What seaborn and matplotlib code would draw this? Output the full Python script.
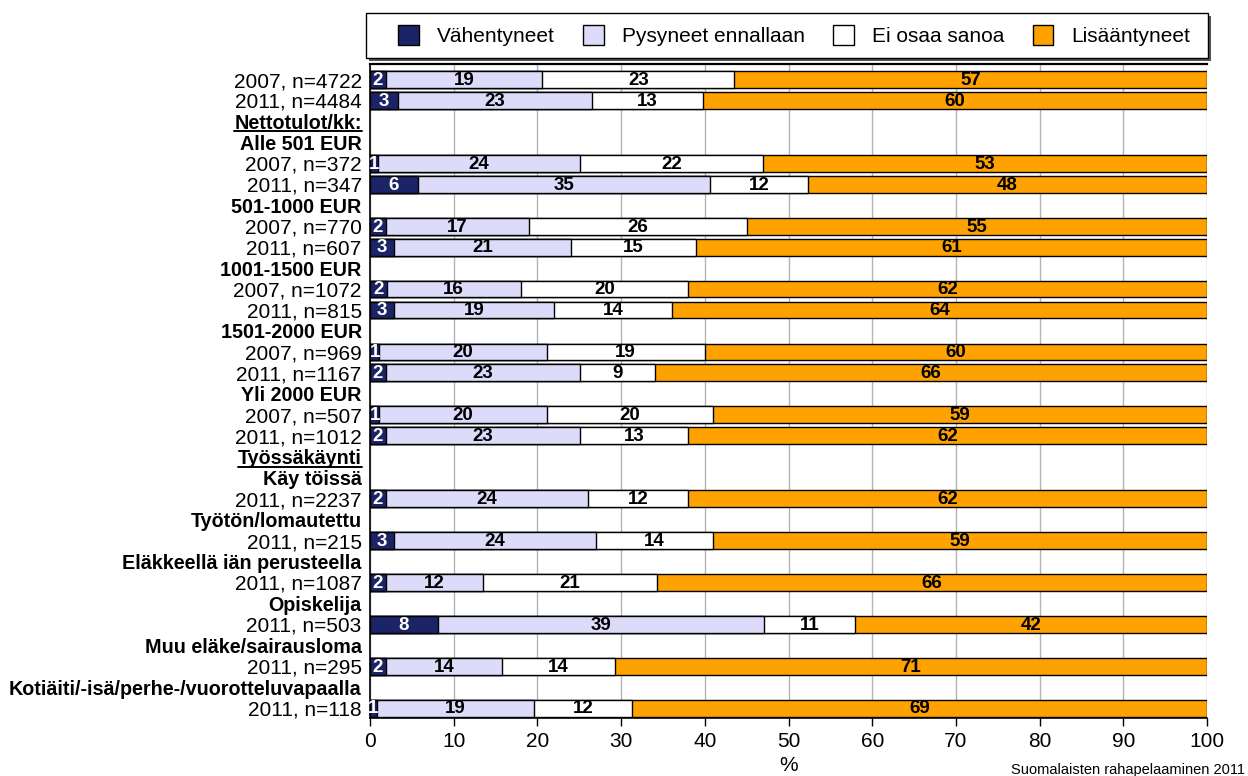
import matplotlib
matplotlib.use("Agg")
import matplotlib.pyplot as plt
import seaborn as sns
import numpy as np
import pandas as pd
from matplotlib.patches import Patch, Rectangle
from matplotlib.lines import Line2D

# ---- data ----
row_order = [
    "2007, n=4722", "2011, n=4484", "Nettotulot/kk:", "Alle 501 EUR",
    "2007, n=372", "2011, n=347", "501-1000 EUR", "2007, n=770", "2011, n=607",
    "1001-1500 EUR", "2007, n=1072", "2011, n=815", "1501-2000 EUR",
    "2007, n=969", "2011, n=1167", "Yli 2000 EUR", "2007, n=507", "2011, n=1012",
    "Työssäkäynti", "Käy töissä", "2011, n=2237", "Työtön/lomautettu",
    "2011, n=215", "Eläkkeellä iän perusteella", "2011, n=1087", "Opiskelija",
    "2011, n=503", "Muu eläke/sairausloma", "2011, n=295",
    "Kotiäiti/-isä/perhe-/vuorotteluvapaalla", "2011, n=118",
]
header_rows = [
    "Nettotulot/kk:", "Alle 501 EUR", "501-1000 EUR", "1001-1500 EUR",
    "1501-2000 EUR", "Yli 2000 EUR", "Työssäkäynti", "Käy töissä",
    "Työtön/lomautettu", "Eläkkeellä iän perusteella", "Opiskelija",
    "Muu eläke/sairausloma", "Kotiäiti/-isä/perhe-/vuorotteluvapaalla",
]
underlined_rows = ["Nettotulot/kk:", "Työssäkäynti"]

data_rows = [
    "2007, n=4722", "2011, n=4484", "2007, n=372", "2011, n=347",
    "2007, n=770", "2011, n=607", "2007, n=1072", "2011, n=815",
    "2007, n=969", "2011, n=1167", "2007, n=507", "2011, n=1012",
    "2011, n=2237", "2011, n=215", "2011, n=1087", "2011, n=503",
    "2011, n=295", "2011, n=118",
]
series_names = ["Vähentyneet", "Pysyneet ennallaan", "Ei osaa sanoa", "Lisääntyneet"]

vahentyneet = [1.9, 3.3, 1.0, 5.7, 1.9, 2.9, 2.0, 2.9, 1.1, 1.9, 1.1, 1.9, 1.9, 2.9, 1.9, 8.1, 1.9, 0.8]
pysyneet = [18.7, 23.2, 24.1, 34.9, 17.1, 21.1, 16.0, 19.1, 20.0, 23.2, 20.0, 23.2, 24.1, 24.1, 11.6, 39.0, 13.9, 18.8]
ei_osaa = [22.9, 13.3, 21.9, 11.7, 26.0, 14.9, 20.0, 14.1, 18.9, 9.0, 19.9, 12.9, 12.0, 14.0, 20.8, 10.8, 13.5, 11.7]
lisaantyneet = [56.5, 60.2, 53.0, 47.7, 55.0, 61.1, 62.0, 63.9, 60.0, 65.9, 59.0, 62.0, 62.0, 59.0, 65.7, 42.1, 70.7, 68.7]

vahentyneet_lbl = [2, 3, 1, 6, 2, 3, 2, 3, 1, 2, 1, 2, 2, 3, 2, 8, 2, 1]
pysyneet_lbl = [19, 23, 24, 35, 17, 21, 16, 19, 20, 23, 20, 23, 24, 24, 12, 39, 14, 19]
ei_osaa_lbl = [23, 13, 22, 12, 26, 15, 20, 14, 19, 9, 20, 13, 12, 14, 21, 11, 14, 12]
lisaantyneet_lbl = [57, 60, 53, 48, 55, 61, 62, 64, 60, 66, 59, 62, 62, 59, 66, 42, 71, 69]

x_ticks = [0, 10, 20, 30, 40, 50, 60, 70, 80, 90, 100]

# ---- style ----
sns.set_theme(style="white")
plt.rcParams["font.family"] = ["Liberation Sans", "DejaVu Sans"]
plt.rcParams["text.color"] = "black"
plt.rcParams["axes.labelcolor"] = "black"
plt.rcParams["xtick.color"] = "black"
plt.rcParams["ytick.color"] = "black"

colors = ["#1B2466", "#DCDCFA", "#FFFFFF", "#FFA200"]
text_colors = ["white", "black", "black", "black"]

fig = plt.figure(figsize=(12.48, 7.76), dpi=100)
ax = fig.add_axes([370 / 1248, 1 - 718 / 776, 837 / 1248, (718 - 64) / 776])

series = [vahentyneet, pysyneet, ei_osaa, lisaantyneet]
labels = [vahentyneet_lbl, pysyneet_lbl, ei_osaa_lbl, lisaantyneet_lbl]
df = pd.DataFrame({name: vals for name, vals in zip(series_names, series)})
df["row"] = data_rows
cum = df[series_names].cumsum(axis=1)

# draw cumulative layers from the widest to the narrowest
for k in range(3, -1, -1):
    sns.barplot(x=cum[series_names[k]], y=df["row"], order=row_order, orient="h",
                color=colors[k], saturation=1, width=0.8, edgecolor="black",
                linewidth=1, ax=ax, zorder=3)

# value labels
for k in range(4):
    left = cum[series_names[k]] - df[series_names[k]]
    for i, r in enumerate(data_rows):
        xc = left.iloc[i] + df[series_names[k]].iloc[i] / 2
        yc = row_order.index(r) + 0.04
        ax.text(xc, yc, str(labels[k][i]), ha="center", va="center",
                fontsize=13.5, fontweight="bold", color=text_colors[k], zorder=5)

ax.set_xlim(0, 100)
ax.set_ylim(30.47, -0.74)
ax.set_xticks(x_ticks)
ax.set_xticklabels([str(t) for t in x_ticks], fontsize=15)
ax.set_xlabel("%", fontsize=15, labelpad=4)
ax.set_ylabel("")
ax.xaxis.grid(True, color="#b4b4b4", linewidth=1, zorder=0)
ax.set_axisbelow(True)
ax.tick_params(axis="x", direction="out", length=6, width=1, color="black", pad=4, bottom=True)
ax.tick_params(axis="y", length=0, pad=6, labelsize=15)

for side in ["left", "bottom", "top"]:
    ax.spines[side].set_visible(True)
    ax.spines[side].set_color("black")
    ax.spines[side].set_linewidth(1.2)
ax.spines["top"].set_linewidth(1.6)
ax.spines["right"].set_visible(False)

for lab in ax.get_yticklabels():
    if lab.get_text() in header_rows:
        lab.set_fontweight("bold")
        lab.set_fontsize(14.2)

# legend box (frame + shadow) and entries
box_x0, box_y0, box_w, box_h = 366 / 1248, 1 - 58 / 776, 842 / 1248, 45 / 776
fig.add_artist(Rectangle((box_x0 + 3 / 1248, box_y0 - 3 / 776), box_w, box_h,
                         transform=fig.transFigure, facecolor="#555555",
                         edgecolor="none", zorder=0))
fig.add_artist(Rectangle((box_x0, box_y0), box_w, box_h, transform=fig.transFigure,
                         facecolor="white", edgecolor="black", linewidth=1, zorder=1))
handles = [Patch(facecolor=c, edgecolor="black", linewidth=1) for c in colors]
leg = fig.legend(handles, series_names, loc="center left",
                 bbox_to_anchor=(398 / 1248, box_y0, (1190 - 398) / 1248, box_h),
                 mode="expand", ncol=4, fontsize=15, frameon=False,
                 borderaxespad=0, borderpad=0, handlelength=1.0, handleheight=1.15,
                 handletextpad=0.85)
leg.set_zorder(2)

fig.text(1245 / 1248, 1 - 770 / 776, "Suomalaisten rahapelaaminen 2011",
         ha="right", va="center", fontsize=10.5)

# underline selected headers
fig.canvas.draw()
renderer = fig.canvas.get_renderer()
inv = fig.transFigure.inverted()
for lab in ax.get_yticklabels():
    if lab.get_text() in underlined_rows:
        bb = lab.get_window_extent(renderer)
        (x0, y0), (x1, y1) = inv.transform([(bb.x0, bb.y0 + 1.5), (bb.x1, bb.y0 + 1.5)])
        fig.add_artist(Line2D([x0, x1], [y0, y1], transform=fig.transFigure,
                              color="black", linewidth=1.4))

fig.savefig("out.png", dpi=100)
